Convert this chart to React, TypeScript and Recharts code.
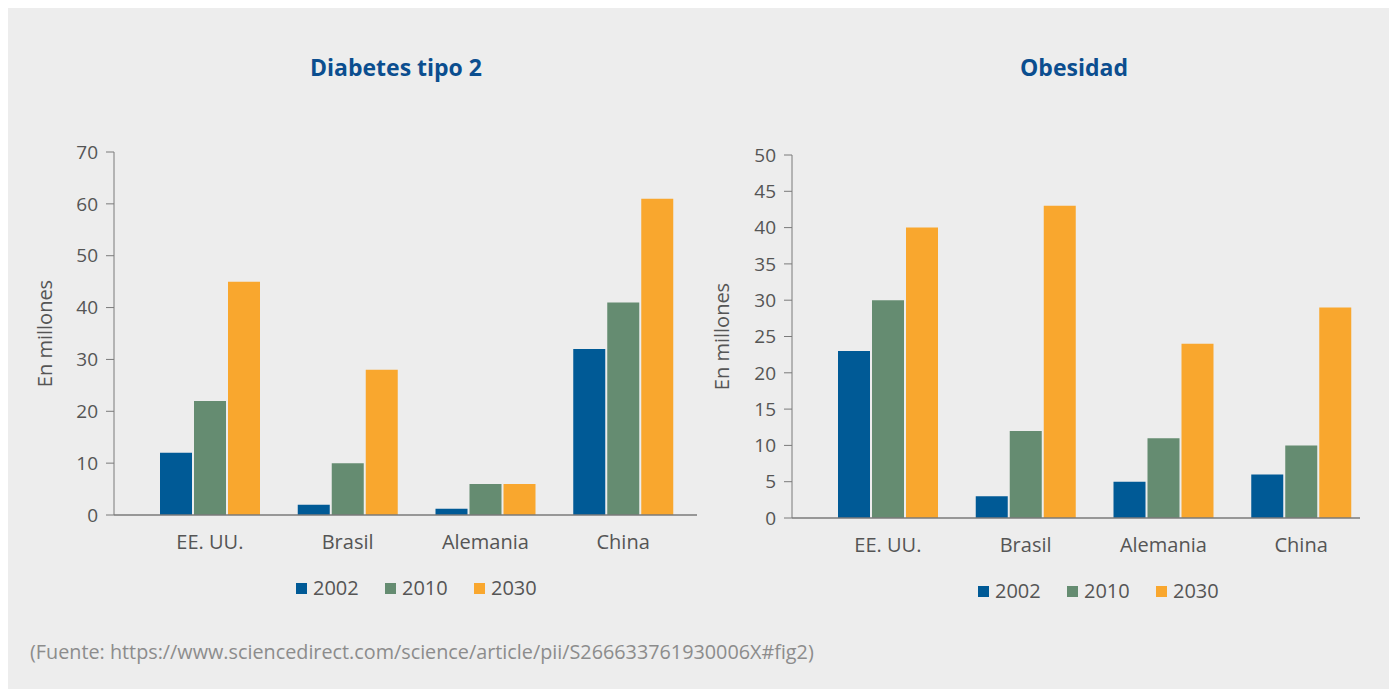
import React from 'react';
import { BarChart, Bar, XAxis, YAxis, Legend } from 'recharts';

const countries = ['EE. UU.', 'Brasil', 'Alemania', 'China'];
const years = ['2002', '2010', '2030'];
const colors = ['#005a96', '#658c71', '#f9a72e'];

const diabetes2002 = [12, 2, 1.2, 32];
const diabetes2010 = [22, 10, 6, 41];
const diabetes2030 = [45, 28, 6, 61];
const diabetesTicks = [0, 10, 20, 30, 40, 50, 60, 70];

const obesity2002 = [23, 3, 5, 6];
const obesity2010 = [30, 12, 11, 10];
const obesity2030 = [40, 43, 24, 29];
const obesityTicks = [0, 5, 10, 15, 20, 25, 30, 35, 40, 45, 50];

const FONT = '"Open Sans", Lato, sans-serif';
const AXIS = '#7a7a7a';
const TEXT = '#555555';

const buildRows = (a: number[], b: number[], c: number[]) =>
  countries.map((country, i) => ({ country, y2002: a[i], y2010: b[i], y2030: c[i] }));

const diabetesData = buildRows(diabetes2002, diabetes2010, diabetes2030);
const obesityData = buildRows(obesity2002, obesity2010, obesity2030);

const LegendRow = () => (
  <div style={{ display: 'flex', fontFamily: FONT, fontSize: 20, color: TEXT, lineHeight: '24px', height: 24 }}>
    {years.map((y, i) => (
      <div key={y} style={{ display: 'flex', alignItems: 'center', width: 89 }}>
        <span style={{ width: 11, height: 11, background: colors[i], marginRight: 6, display: 'inline-block' }} />
        <span>{y}</span>
      </div>
    ))}
  </div>
);

interface PanelProps {
  data: any[];
  ticks: number[];
  max: number;
  left: number;
  yAxisWidth: number;
  labelOffset: number;
  margin: { top: number; right: number; left: number; bottom: number };
  padding: { left: number; right: number };
  axisDash?: string;
  legendLeft: number;
  legendTop: number;
}

const Panel: React.FC<PanelProps> = (p) => (
  <div style={{ position: 'absolute', left: p.left, top: 0 }}>
    <BarChart width={690} height={640} data={p.data} margin={p.margin} barSize={32} barGap={2}>
      <XAxis
        dataKey="country"
        tickLine={false}
        axisLine={{ stroke: AXIS, strokeWidth: 1.5, strokeDasharray: p.axisDash }}
        padding={p.padding}
        tick={{ fill: TEXT, fontSize: 20, fontFamily: FONT }}
        tickMargin={14}
        height={40}
      />
      <YAxis
        domain={[0, p.max]}
        ticks={p.ticks}
        interval={0}
        width={p.yAxisWidth}
        tickSize={8}
        tickMargin={8}
        axisLine={{ stroke: AXIS }}
        tickLine={{ stroke: AXIS }}
        tick={{ fill: TEXT, fontSize: 19, fontFamily: FONT }}
        label={{
          value: 'En millones',
          angle: -90,
          position: 'insideLeft',
          offset: p.labelOffset,
          style: { textAnchor: 'middle', fill: TEXT, fontSize: 20, fontFamily: FONT },
        }}
      />
      <Legend
        content={<LegendRow />}
        wrapperStyle={{ position: 'absolute', left: p.legendLeft, top: p.legendTop, width: 300 }}
      />
      <Bar dataKey="y2002" name="2002" fill={colors[0]} isAnimationActive={false} />
      <Bar dataKey="y2010" name="2010" fill={colors[1]} isAnimationActive={false} />
      <Bar dataKey="y2030" name="2030" fill={colors[2]} isAnimationActive={false} />
    </BarChart>
  </div>
);

const titleStyle: React.CSSProperties = {
  position: 'absolute',
  top: 43,
  width: 400,
  textAlign: 'center',
  fontFamily: FONT,
  fontWeight: 700,
  fontSize: 23,
  color: '#0b4e8f',
};

export default function App() {
  return (
    <div style={{ position: 'relative', width: 1381, height: 681, background: '#ededed', overflow: 'hidden' }}>
      <div style={{ ...titleStyle, left: 188 }}>Diabetes tipo 2</div>
      <div style={{ ...titleStyle, left: 866 }}>Obesidad</div>
      <Panel
        data={diabetesData}
        ticks={diabetesTicks}
        max={70}
        left={0}
        yAxisWidth={106}
        labelOffset={37}
        margin={{ top: 144, right: 1, left: 0, bottom: 69 }}
        padding={{ left: 27, right: 5 }}
        legendLeft={288}
        legendTop={568}
      />
      <Panel
        data={obesityData}
        ticks={obesityTicks}
        max={50}
        left={692}
        yAxisWidth={92}
        labelOffset={22}
        margin={{ top: 147, right: 20, left: 0, bottom: 66 }}
        padding={{ left: 27, right: 0 }}
        axisDash="568 2000"
        legendLeft={278}
        legendTop={571}
      />
      <div
        style={{
          position: 'absolute',
          left: 22,
          top: 630,
          fontFamily: FONT,
          fontSize: 19.8,
          color: '#8c8c8c',
        }}
      >
        (Fuente: https://www.sciencedirect.com/science/article/pii/S266633761930006X#fig2)
      </div>
    </div>
  );
}
